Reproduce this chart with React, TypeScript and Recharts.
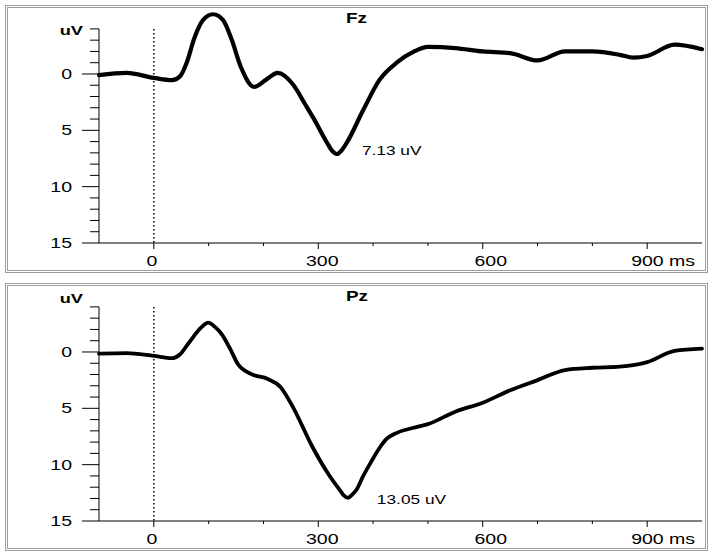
import { LineChart, Line, XAxis, YAxis, ReferenceLine, ReferenceDot } from "recharts";

// ERP waveforms (uV, positive drawn downward), times in ms
const fzTimes = [-100, -50, 0, 33, 48, 60, 74, 90, 108, 126, 141, 159, 183, 205, 226, 255, 275, 291, 316, 325, 334, 343, 352, 382, 412, 443, 475, 500, 550, 600, 650, 700, 750, 800, 850, 875, 900, 950, 1000];
const fzValues = [0.1, -0.1, 0.35, 0.55, 0.2, -1.0, -3.2, -4.8, -5.3, -4.8, -3.2, -0.6, 1.15, 0.5, -0.1, 1.0, 2.6, 3.9, 6.1, 6.8, 7.1, 6.75, 6.1, 3.2, 0.5, -1.0, -2.0, -2.4, -2.3, -2.0, -1.85, -1.2, -2.0, -2.0, -1.7, -1.45, -1.6, -2.6, -2.2];

const pzTimes = [-100, -50, 0, 33, 48, 63, 87, 99, 112, 125, 140, 153, 177, 208, 231, 255, 288, 322, 340, 347, 354, 361, 370, 382, 397, 412, 425, 440, 472, 500, 550, 600, 650, 700, 750, 800, 850, 900, 950, 1000];
const pzValues = [0.15, 0.1, 0.35, 0.55, 0.2, -0.75, -2.2, -2.6, -2.2, -1.5, -0.2, 1.05, 1.95, 2.4, 3.1, 5.0, 8.3, 11.1, 12.3, 12.75, 12.95, 12.7, 12.2, 11.0, 9.7, 8.5, 7.7, 7.25, 6.75, 6.4, 5.3, 4.5, 3.4, 2.5, 1.6, 1.4, 1.3, 0.9, -0.1, -0.3];

const xTicks = [0, 100, 200, 300, 400, 500, 600, 700, 800, 900];
const xMajor = [0, 300, 600, 900];
const xTickText: Record<number, string> = { 0: "0", 300: "300", 600: "600", 900: "900 ms" };
const xTickDx: Record<number, number> = { 0: -2, 300: 4, 600: 8, 900: -16 };
const yTicks = [-4, -3, -2, -1, 0, 1, 2, 3, 4, 5, 6, 7, 8, 9, 10, 11, 12, 13, 14, 15];

const FONT = "'Liberation Sans', Arial, sans-serif";
const W = 713;
const H = 278;

function XTick(props: any) {
  const { x, y, payload } = props;
  const v = payload.value;
  const major = xMajor.includes(v);
  return (
    <g>
      <line x1={x} x2={x} y1={y} y2={y + (major ? 6 : 3)} stroke="#000" strokeWidth={1} />
      {major && (
        <text
          transform={`translate(${x + xTickDx[v]},${y + 23}) scale(1.3,1)`}
          textAnchor={v === 900 ? "start" : "middle"}
          fontFamily={FONT}
          fontSize={15}
          fill="#000"
        >
          {xTickText[v]}
        </text>
      )}
    </g>
  );
}

function YTick(props: any) {
  const { x, y, payload, uvDy } = props;
  const v = payload.value;
  const major = v % 5 === 0;
  return (
    <g>
      <line x1={x - (major ? 17 : 9)} x2={x} y1={y} y2={y} stroke="#000" strokeWidth={1} />
      {major && (
        <text
          transform={`translate(${x - 27},${y + 5}) scale(1.3,1)`}
          textAnchor="end"
          fontFamily={FONT}
          fontSize={15}
          fill="#000"
        >
          {v}
        </text>
      )}
      {v === -4 && (
        <text
          transform={`translate(${x - 16},${y + uvDy}) scale(1.35,1)`}
          textAnchor="end"
          fontFamily={FONT}
          fontSize={13.5}
          fontWeight="bold"
          fill="#000"
        >
          uV
        </text>
      )}
    </g>
  );
}

function PeakLabel(props: any) {
  const { viewBox, text, dx, dy } = props;
  return (
    <text
      transform={`translate(${viewBox.x + dx},${viewBox.y + dy}) scale(1.28,1)`}
      fontFamily={FONT}
      fontSize={13.5}
      fill="#000"
    >
      {text}
    </text>
  );
}

function Panel({ top, title, times, values, peakT, peakV, peakText, peakDx, peakDy, uvDy, lineWidth }: any) {
  const data = times.map((t: number, i: number) => ({ t, v: values[i] }));
  return (
    <div style={{ position: "absolute", left: 0, top, width: W, height: H }}>
      <div
        style={{
          position: "absolute",
          left: 5,
          top: 5,
          width: 703,
          height: 268,
          border: "3px double #9c9c9c",
          boxSizing: "border-box",
        }}
      />
      <div style={{ position: "absolute", left: 0, top: 0 }}>
        <LineChart width={W} height={H} data={data} margin={{ top: 12, right: 11, bottom: 5, left: 0 }}>
          <XAxis
            dataKey="t"
            type="number"
            domain={[-100, 1000]}
            ticks={xTicks}
            interval={0}
            axisLine={{ stroke: "#000", strokeWidth: 1 }}
            tickLine={false}
            tickSize={0}
            tickMargin={0}
            height={30}
            tick={<XTick />}
          />
          <YAxis
            type="number"
            reversed
            domain={[-5.5, 15]}
            ticks={yTicks}
            interval={0}
            width={99}
            axisLine={false}
            tickLine={false}
            tickSize={0}
            tickMargin={0}
            tick={(p: any) => <YTick {...p} uvDy={uvDy} />}
          />
          {/* y axis line only spans the ticked range */}
          <ReferenceLine segment={[{ x: -100, y: -4 }, { x: -100, y: 15 }]} stroke="#000" strokeWidth={1} />
          <ReferenceLine
            segment={[{ x: 0, y: -4 }, { x: 0, y: 15 }]}
            stroke="#000"
            strokeWidth={1.5}
            strokeDasharray="1.5 2.5"
          />
          <Line
            type="monotone"
            dataKey="v"
            stroke="#000"
            strokeWidth={lineWidth}
            strokeLinejoin="round"
            strokeLinecap="round"
            dot={false}
            isAnimationActive={false}
          />
          <ReferenceDot
            x={peakT}
            y={peakV}
            r={0}
            stroke="none"
            fill="none"
            label={(p: any) => <PeakLabel {...p} text={peakText} dx={peakDx} dy={peakDy} />}
          />
        </LineChart>
      </div>
      <svg style={{ position: "absolute", left: 0, top: 0, pointerEvents: "none" }} width={W} height={H}>
        <text
          transform="translate(346,23) scale(1.35,1)"
          fontFamily={FONT}
          fontSize={14}
          fontWeight="bold"
          fill="#000"
        >
          {title}
        </text>
      </svg>
    </div>
  );
}

export default function App() {
  return (
    <div style={{ position: "absolute", left: 0, top: 0, width: 713, height: 557, background: "#fff" }}>
      <Panel
        top={0}
        title="Fz"
        times={fzTimes}
        values={fzValues}
        peakT={334}
        peakV={7.13}
        peakText="7.13 uV"
        peakDx={25}
        peakDy={1}
        uvDy={6}
        lineWidth={4.2}
      />
      <Panel
        top={278}
        title="Pz"
        times={pzTimes}
        values={pzValues}
        peakT={354}
        peakV={13.05}
        peakText="13.05 uV"
        peakDx={29}
        peakDy={5}
        uvDy={-4}
        lineWidth={3.8}
      />
    </div>
  );
}
